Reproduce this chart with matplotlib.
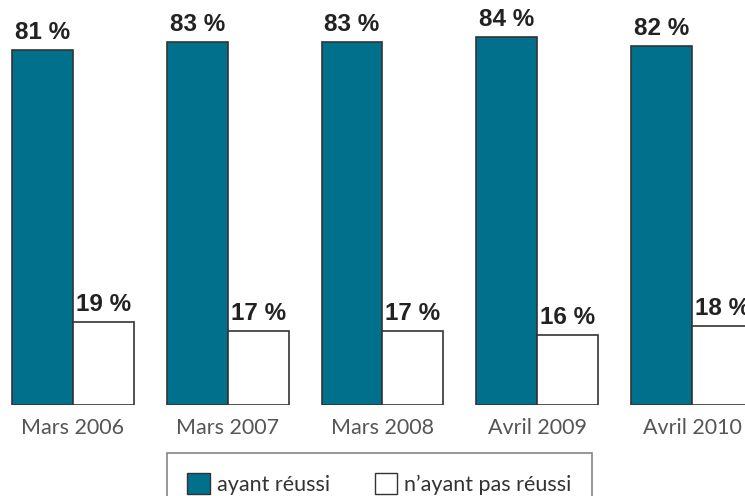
import matplotlib.pyplot as plt
from matplotlib.patches import Patch

periods = ["Mars 2006", "Mars 2007", "Mars 2008", "Avril 2009", "Avril 2010"]
reussi = [81, 83, 83, 84, 82]
pas_reussi = [19, 17, 17, 16, 18]

teal = "#00708c"
edge = "#333333"
w = 0.394

fig = plt.figure(figsize=(7.45, 4.96), dpi=100)
ax = fig.add_axes([0, 91 / 496, 1, 405 / 496])

x = list(range(len(periods)))
ax.bar(x, reussi, width=-w, align="edge", color=teal, edgecolor=edge, linewidth=1.2)
ax.bar(x, pas_reussi, width=w, align="edge", color="white", edgecolor=edge, linewidth=1.2)

for i in x:
    ax.text(i - w / 2, reussi[i] + 2.5, f"{reussi[i]} %", ha="center", va="baseline",
            fontsize=17.5, fontweight="bold", color="#222222", family="Liberation Sans")
    ax.text(i + w / 2, pas_reussi[i] + 2.5, f"{pas_reussi[i]} %", ha="center", va="baseline",
            fontsize=17.5, fontweight="bold", color="#222222", family="Liberation Sans")

ax.set_xlim(-0.4717, 4.3425)
ax.set_ylim(0, 92.5)
ax.set_xticks(x)
ax.set_xticklabels(periods, fontsize=15.5, color="#555555", family="Lato")
ax.tick_params(axis="x", length=0, pad=9)
ax.set_yticks([])
for s in ax.spines.values():
    s.set_visible(False)

handles = [Patch(facecolor=teal, edgecolor=edge, label="ayant réussi"),
           Patch(facecolor="white", edgecolor=edge, label="n\u2019ayant pas réussi")]
leg = fig.legend(handles=handles, loc="upper left", bbox_to_anchor=(167 / 745, 1 - 453 / 496),
                 ncol=2, frameon=True, fancybox=False, edgecolor="#666666",
                 prop={"family": "Lato", "size": 15.5}, labelcolor="#333333",
                 handlelength=1.05, handleheight=1.1, handletextpad=0.3,
                 columnspacing=2.1, borderpad=0.95, borderaxespad=0)
leg.get_frame().set_linewidth(1.2)

fig.savefig("out.png", dpi=100)
